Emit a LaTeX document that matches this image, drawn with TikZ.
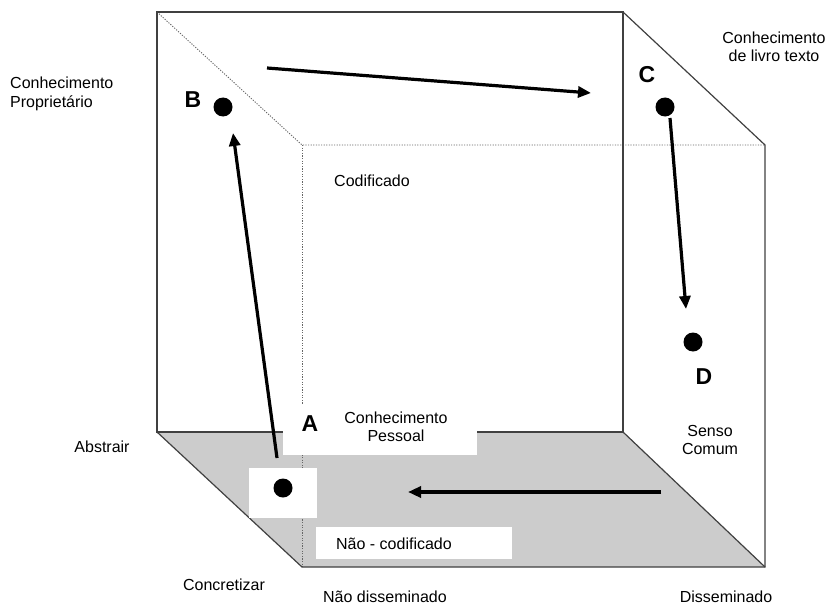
\documentclass[tikz,border=0pt]{standalone}
\usepackage{fontspec}
\setmainfont{Liberation Sans}
\usetikzlibrary{arrows.meta}
\begin{document}
\begin{tikzpicture}[x=1pt,y=-1pt,
  edge/.style={draw=black!75,line width=1.2pt},
  hidden/.style={draw=black!60,line width=0.9pt,dash pattern=on 1.2pt off 1.4pt},
  flow/.style={line width=3.2pt,-{Triangle[length=13pt,width=11pt]},shorten >=0pt},
  dot/.style={circle,fill=black,inner sep=0pt,minimum size=19pt},
  corner/.style={font=\fontsize{23}{23}\selectfont\bfseries,inner sep=0pt},
  lbl/.style={font=\fontsize{16}{18.5}\selectfont,inner sep=0pt,align=center},
  mask/.style={fill=white,draw=none}
]
\useasboundingbox (0,0) rectangle (834,607);

% cube corners
\coordinate (b1) at (157,12);   \coordinate (b2) at (623,12);
\coordinate (b3) at (623,432);  \coordinate (b4) at (157,432);
\coordinate (f1) at (302,145);  \coordinate (f2) at (765,145);
\coordinate (f3) at (765,567);  \coordinate (f4) at (302,567);

% floor of the cube
\fill[black!20] (b4) -- (b3) -- (f3) -- (f4) -- cycle;

% hidden edges
\draw[hidden] (b1) -- (f1) -- (f2);
\draw[hidden] (f1) -- (f4);

% visible edges
\draw[edge] (b4) -- (b1) -- (b2) -- (b3) -- cycle;
\draw[edge] (b2) -- (f2) -- (f3) -- (f4) -- (b4);
\draw[edge] (b3) -- (f3);

% white label panels on the floor
\fill[mask] (283,405) rectangle (477,455);
\fill[mask] (249,468) rectangle (317,518);
\fill[mask] (316,527) rectangle (512,559);

% points
\node[dot] (A) at (283,488) {};
\node[dot] (B) at (223,107) {};
\node[dot] (C) at (665,107) {};
\node[dot] (D) at (693,342) {};

\node[corner] (la) at (310,424) {A};
\node[corner] (lb) at (193,100) {B};
\node[corner] (lc) at (647,75) {C};
\node[corner] (ld) at (704,377) {D};

% arrow ends
\coordinate (ab0) at (277,458); \coordinate (ab1) at (233,133);
\coordinate (bc0) at (267,68);  \coordinate (bc1) at (591,93);
\coordinate (cd0) at (670,118); \coordinate (cd1) at (686,309);
\coordinate (da0) at (661,492); \coordinate (da1) at (408,492);

\draw[flow] (ab0) -- (ab1);
\draw[flow] (bc0) -- (bc1);
\draw[flow] (cd0) -- (cd1);
\draw[flow] (da0) -- (da1);

% text
\node[lbl,align=left,anchor=west] (prop) at (10,94) {Conhecimento\\Proprietário};
\node[lbl] (livro) at (774,47) {Conhecimento\\de livro texto};
\node[lbl] (cod) at (372,181) {Codificado};
\node[lbl] (pess) at (396,427) {Conhecimento\\Pessoal};
\node[lbl] (senso) at (710,440) {Senso\\Comum};
\node[lbl] (abs) at (102,447) {Abstrair};
\node[lbl] (conc) at (224,585) {Concretizar};
\node[lbl] (ndis) at (385,597) {Não disseminado};
\node[lbl] (dis) at (726,597) {Disseminado};
\node[lbl] (ncod) at (394,544) {Não - codificado};
\end{tikzpicture}
\end{document}
